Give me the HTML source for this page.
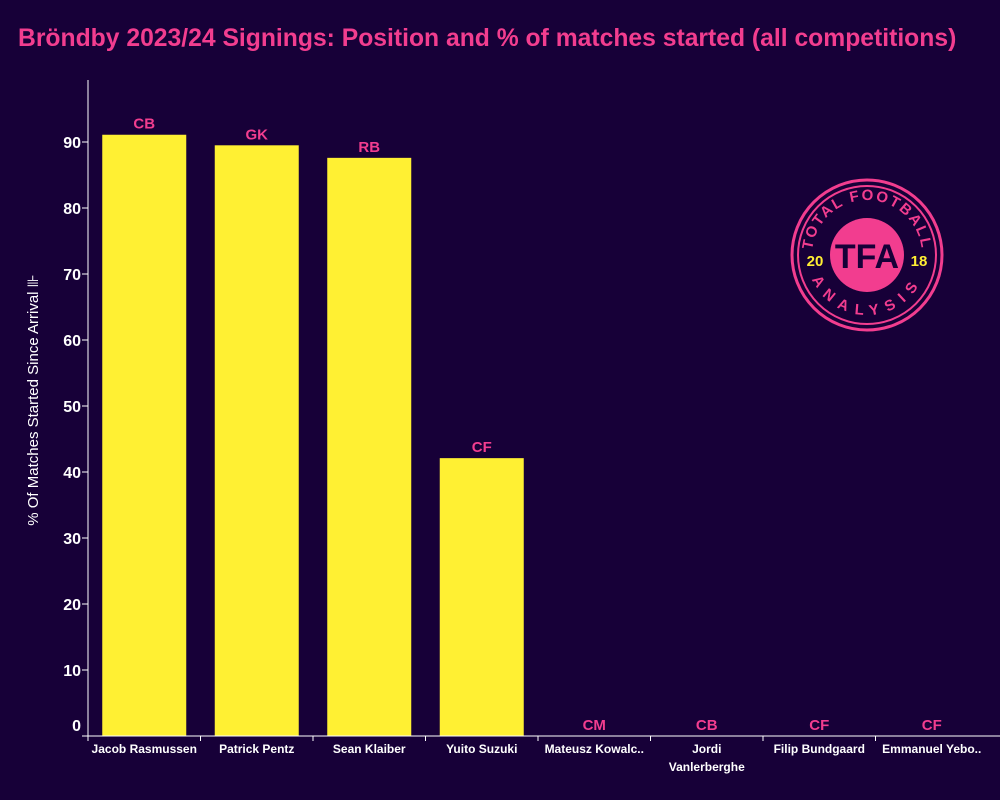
<!DOCTYPE html>
<html><head><meta charset="utf-8"><style>
body{margin:0;background:#170038;width:1000px;height:800px;overflow:hidden;font-family:"Liberation Sans",sans-serif}
svg{display:block}
</style></head><body>
<svg id="chart" width="1000" height="800">
<rect x="0" y="0" width="1000" height="800" fill="#170038"/>
<text x="18" y="46" fill="#f23d8f" font-size="24.7" font-weight="bold">Bröndby 2023/24 Signings: Position and % of matches started (all competitions)</text>
<text transform="translate(38,400) rotate(-90)" text-anchor="middle" fill="#ffffff" font-size="15">% Of Matches Started Since Arrival ⊪</text>
<g id="yaxis"></g><g id="bars"></g><g id="xaxis"></g>
<g transform="translate(867,255)">
<circle r="75" fill="none" stroke="#f23d8f" stroke-width="3"/>
<circle r="69" fill="none" stroke="#f23d8f" stroke-width="2"/>
<circle r="37" fill="#f23d8f"/>
<text y="13" text-anchor="middle" fill="#170038" font-size="34" font-weight="bold">TFA</text>
<text x="-52" y="11" text-anchor="middle" fill="#ffee33" font-size="15" font-weight="bold">20</text>
<text x="52" y="11" text-anchor="middle" fill="#ffee33" font-size="15" font-weight="bold">18</text>
<defs><path id="arcTop" d="M-55,0 A55,55 0 0 1 55,0"/><path id="arcBot" d="M-60,0 A60,60 0 0 0 60,0"/></defs>
<text fill="#f23d8f" font-size="15" font-weight="bold" letter-spacing="2"><textPath href="#arcTop" startOffset="50%" text-anchor="middle">TOTAL FOOTBALL</textPath></text>
<text fill="#f23d8f" font-size="15" font-weight="bold" letter-spacing="8"><textPath href="#arcBot" startOffset="50%" text-anchor="middle">ANALYSIS</textPath></text>
</g>
</svg>
<script>
const players=["Jacob Rasmussen","Patrick Pentz","Sean Klaiber","Yuito Suzuki","Mateusz Kowalc..","Jordi|Vanlerberghe","Filip Bundgaard","Emmanuel Yebo.."];
const positions=["CB","GK","RB","CF","CM","CB","CF","CF"];
const pctStarted=[91.1,89.5,87.6,42.1,0,0,0,0];
const yTicks=[0,10,20,30,40,50,60,70,80,90];
const NS="http://www.w3.org/2000/svg";
const x0=88,x1=988,y0=736,pxPer=6.6;
const band=(x1-x0)/players.length;
const y=v=>y0-v*pxPer;
const xc=i=>x0+band*(i+0.5);
function mk(tag,attrs,parent){const e=document.createElementNS(NS,tag);for(const k in attrs)e.setAttribute(k,attrs[k]);parent.appendChild(e);return e;}
const ya=document.getElementById('yaxis'),bg=document.getElementById('bars'),xa=document.getElementById('xaxis');
let ax=mk('line',{x1:x0,y1:80,x2:x0,y2:y0,stroke:'#fff','stroke-width':1},ya);


yTicks.forEach(t=>{
 const l=mk('line',{x1:x0-6,x2:x0,y1:y(t),y2:y(t),stroke:'#fff'},ya);
 
 
 const tx=mk('text',{x:x0-7,y:(t===0?y(t)-5:y(t)+6),'text-anchor':'end',fill:'#fff','font-size':16,'font-weight':'bold'},ya);
 tx.textContent=t;
 
 
});
let bx=mk('line',{x1:x0-6,y1:y0,x2:1000,y2:y0,stroke:'#fff'},xa);


players.forEach((p,i)=>{
 const v=pctStarted[i],bw=84;
 const r=mk('rect',{x:xc(i)-bw/2,y:y(v),width:bw,height:y0-y(v),fill:'#fff033'},bg);
 
 
 const lb=mk('text',{x:xc(i),y:y(v)-6,'text-anchor':'middle',fill:'#f23d8f','font-size':15,'font-weight':'bold'},bg);
 lb.textContent=positions[i];
 
 
 const tk=mk('line',{x1:x0+band*i,x2:x0+band*i,y1:y0,y2:y0+5,stroke:'#fff'},xa);
 
 
 p.split('|').forEach((ln,j)=>{
  const t=mk('text',{x:xc(i),y:y0+17+j*18,'text-anchor':'middle',fill:'#fff','font-size':12,'font-weight':'bold'},xa);
  t.textContent=ln;
  
  
 });
});
</script>
</body></html>
